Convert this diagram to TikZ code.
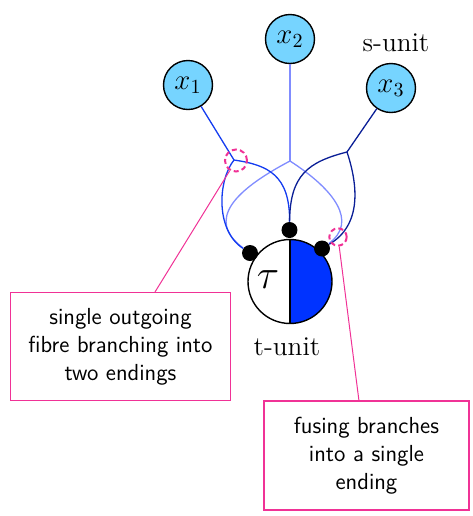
\documentclass[tikz,border=0pt]{standalone}
\definecolor{sblue}{RGB}{118,212,255}
\definecolor{tblue}{RGB}{0,51,255}
\definecolor{fibA}{RGB}{20,60,240}
\definecolor{fibB}{RGB}{128,140,255}
\definecolor{fibC}{RGB}{10,30,150}
\definecolor{pinkc}{RGB}{240,50,150}
\begin{document}
\begin{tikzpicture}[x=0.5pt,y=-0.5pt,
  sunit/.style={circle,draw,line width=0.7pt,fill=sblue,minimum size=24.5pt,inner sep=0pt,font=\Large},
  dotnode/.style={circle,fill=black,minimum size=8pt,inner sep=0pt},
  fibre/.style={line width=0.65pt},
  marker/.style={circle,draw=pinkc,dashed,dash pattern=on 2.5pt off 1.6pt,line width=1pt,inner sep=0pt},
  callout/.style={draw=pinkc,line width=0.5pt},
  notebox/.style={draw=pinkc,line width=0.8pt,align=center,inner sep=0pt,font=\sffamily\fontsize{11.6}{14}\selectfont}]
\useasboundingbox (0,0) rectangle (473,516);
% s-units
\node[sunit] (x1) at (188,85) {$x_1$};
\node[sunit] (x2) at (290,39) {$x_2$};
\node[sunit] (x3) at (391,88) {$x_3$};
\node[font=\fontsize{13.6}{16}\selectfont] (slabel) at (396,43) {s-unit};
% t-unit
\node[circle,minimum size=42pt,inner sep=0pt,fill=white] (t) at (290,281.5) {};
\begin{scope}
  \clip (290,230) rectangle (345,335);
  \fill[tblue] (t.center) circle[radius=42];
\end{scope}
\draw[line width=0.7pt] (t.center) circle[radius=42];
\draw[line width=0.7pt] (t.north) -- (t.south);
\node[font=\huge] (tau) at (268,280) {$\tau$};
\node[font=\fontsize{13.6}{16}\selectfont] (tlabel) at (287,347) {t-unit};
% dots
\node[dotnode] (d1) at (250,253) {};
\node[dotnode] (d2) at (289.5,230) {};
\node[dotnode] (d3) at (322,248.5) {};
% branch points
\coordinate (b1) at (234,160);
\coordinate (b2) at (290,161);
\coordinate (b3) at (347,152);
% fibres
\draw[fibre,fibB] (x2) -- (b2);
\draw[fibre,fibB] (b2) .. controls (235,190) and (205,220) .. (d1);
\draw[fibre,fibB] (b2) .. controls (335,190) and (358,222) .. (d3);
\draw[fibre,fibA] (x1) -- (b1);
\draw[fibre,fibA] (b1) .. controls (218,180) and (215,230) .. (d1);
\draw[fibre,fibA] (b1) .. controls (268,165) and (290,175) .. (d2);
\draw[fibre,fibC] (x3) -- (b3);
\draw[fibre,fibC] (b3) .. controls (308,162) and (290,175) .. (d2);
\draw[fibre,fibC] (b3) .. controls (358,185) and (362,225) .. (d3);
% markers
\node[marker,minimum size=11pt] (c1) at (236,160.5) {};
\node[marker,minimum size=8.7pt] (c2) at (338,237) {};
% boxes
\node[notebox,minimum width=110pt,minimum height=54pt] (box1) at (120.5,346.5) {single outgoing\\fibre branching into\\two endings};
\node[notebox,minimum width=102.5pt,minimum height=54.5pt] (box2) at (366.5,455.5) {fusing branches\\into a single\\ending};
\coordinate (k1) at (155,292);
\coordinate (k2) at (359,401);
\draw[callout] (c1) -- (k1);
\draw[callout] (c2) -- (k2);
\end{tikzpicture}
\end{document}
